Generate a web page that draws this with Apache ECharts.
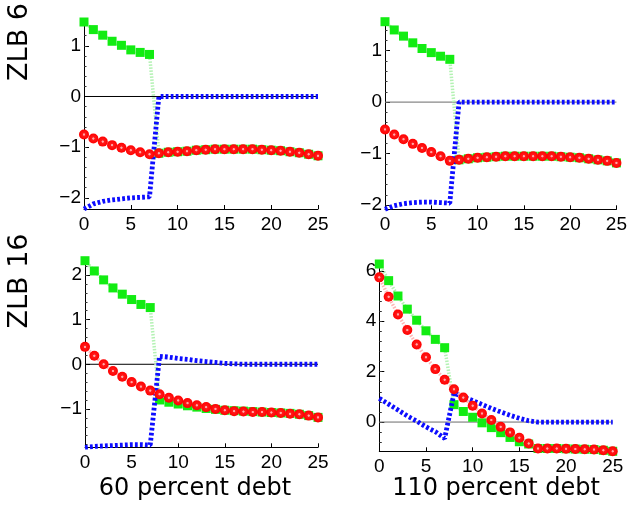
<!DOCTYPE html>
<html>
<head>
<meta charset="utf-8">
<script src="https://cdn.jsdelivr.net/npm/echarts@6/dist/echarts.min.js"></script>
<style>
  html, body { margin: 0; padding: 0; background: #fff; }
  #chart { width: 630px; height: 505px; }
</style>
</head>
<body>
<div id="chart"></div>
<script>
// Horizon (quarters)
const quarters = [0,1,2,3,4,5,6,7,8,9,10,11,12,13,14,15,16,17,18,19,20,21,22,23,24,25];
const xTicks = [0, 5, 10, 15, 20, 25];

// ZLB 6 quarters, 60 percent debt
const green_zlb6_d60 = [1.47,1.32,1.21,1.09,1.01,0.92,0.87,0.83,-1.12,-1.10,-1.09,-1.08,-1.06,-1.05,-1.04,-1.04,-1.04,-1.04,-1.04,-1.05,-1.06,-1.07,-1.09,-1.11,-1.14,-1.17];
const red_zlb6_d60   = [-0.75,-0.83,-0.89,-0.96,-1.01,-1.06,-1.10,-1.14,-1.12,-1.10,-1.09,-1.08,-1.06,-1.05,-1.04,-1.04,-1.04,-1.04,-1.04,-1.05,-1.06,-1.07,-1.09,-1.11,-1.14,-1.17];
const blue_zlb6_d60  = [-2.22,-2.12,-2.07,-2.04,-2.02,-2.00,-1.99,-1.98,0,0,0,0,0,0,0,0,0,0,0,0,0,0,0,0,0,0];

// ZLB 6 quarters, 110 percent debt
const green_zlb6_d110 = [1.56,1.40,1.28,1.15,1.04,0.96,0.89,0.83,-1.12,-1.10,-1.08,-1.07,-1.06,-1.05,-1.05,-1.05,-1.05,-1.05,-1.05,-1.06,-1.07,-1.08,-1.10,-1.12,-1.14,-1.18];
const red_zlb6_d110   = [-0.53,-0.63,-0.72,-0.81,-0.89,-0.97,-1.05,-1.14,-1.12,-1.10,-1.08,-1.07,-1.06,-1.05,-1.05,-1.05,-1.05,-1.05,-1.05,-1.06,-1.07,-1.08,-1.10,-1.12,-1.14,-1.18];
const blue_zlb6_d110  = [-2.08,-2.01,-1.97,-1.95,-1.94,-1.94,-1.95,-1.96,0,0,0,0,0,0,0,0,0,0,0,0,0,0,0,0,0,0];

// ZLB 16 quarters, 60 percent debt
const green_zlb16_d60 = [2.32,2.09,1.89,1.71,1.57,1.45,1.34,1.27,-0.80,-0.85,-0.89,-0.93,-0.96,-0.99,-1.01,-1.03,-1.04,-1.05,-1.06,-1.07,-1.08,-1.09,-1.10,-1.12,-1.15,-1.19];
const red_zlb16_d60   = [0.39,0.19,0.00,-0.15,-0.28,-0.40,-0.50,-0.59,-0.67,-0.75,-0.81,-0.87,-0.92,-0.96,-1.00,-1.03,-1.05,-1.06,-1.07,-1.07,-1.08,-1.09,-1.11,-1.12,-1.15,-1.19];
const blue_zlb16_d60  = [-1.86,-1.84,-1.83,-1.82,-1.81,-1.80,-1.80,-1.81,0.18,0.16,0.13,0.11,0.08,0.06,0.04,0.02,0.01,0,0,0,0,0,0,0,0,0];

// ZLB 16 quarters, 110 percent debt
const green_zlb16_d110 = [6.27,5.61,5.00,4.48,4.04,3.62,3.28,2.95,0.69,0.42,0.19,-0.03,-0.22,-0.42,-0.61,-0.78,-0.87,-1.05,-1.05,-1.05,-1.06,-1.07,-1.08,-1.09,-1.12,-1.16];
const red_zlb16_d110   = [5.74,4.97,4.27,3.65,3.08,2.57,2.10,1.68,1.30,0.97,0.65,0.34,0.08,-0.19,-0.41,-0.62,-0.85,-1.05,-1.05,-1.05,-1.06,-1.07,-1.08,-1.09,-1.12,-1.16];
const blue_zlb16_d110  = [0.94,0.71,0.48,0.24,0.04,-0.19,-0.38,-0.65,1.14,1.00,0.85,0.70,0.54,0.40,0.27,0.15,0.05,0,0,0,0,0,0,0,0,0];

// Y tick labels per panel
const yTicks_zlb6_d60   = [-2, -1, 0, 1];
const yTicks_zlb6_d110  = [-2, -1, 0, 1];
const yTicks_zlb16_d60  = [-1, 0, 1, 2];
const yTicks_zlb16_d110 = [0, 2, 4, 6];

const rowTitles = ['ZLB 6', 'ZLB 16'];
const colTitles = ['60 percent debt', '110 percent debt'];

// Panel layout (pixels) and per-panel styling
const panels = [
  { green: green_zlb6_d60,   red: red_zlb6_d60,   blue: blue_zlb6_d60,   ticks: yTicks_zlb6_d60,   step: 1,
    rect: { left: 84,  top: 22,   width: 234, height: 187 },  zeroColor: '#000' },
  { green: green_zlb6_d110,  red: red_zlb6_d110,  blue: blue_zlb6_d110,  ticks: yTicks_zlb6_d110,  step: 1,
    rect: { left: 385, top: 21.7, width: 233, height: 187.6 }, zeroColor: '#6a6a6a' },
  { green: green_zlb16_d60,  red: red_zlb16_d60,  blue: blue_zlb16_d60,  ticks: yTicks_zlb16_d60,  step: 1,
    rect: { left: 85,  top: 260.7, width: 233, height: 186.6 }, zeroColor: '#000' },
  { green: green_zlb16_d110, red: red_zlb16_d110, blue: blue_zlb16_d110, ticks: yTicks_zlb16_d110, step: 2,
    rect: { left: 379.3, top: 264, width: 233.4, height: 187.3 }, zeroColor: '#6a6a6a' }
];

const GREEN = '#12ec12';
const BLUE = '#0d0dff';
const tickFont = { fontFamily: '"Liberation Sans", Arial, sans-serif', fontSize: 19, color: '#000' };
const minus = v => String(v).replace('-', '\u2212');

const redFill = new echarts.graphic.RadialGradient(0.5, 0.5, 0.5, [
  { offset: 0, color: '#ffb0b0' },
  { offset: 0.16, color: '#ffa0a0' },
  { offset: 0.3, color: '#ff1a1a' },
  { offset: 1, color: '#ff0000' }
]);

const grid = [], xAxis = [], yAxis = [], series = [];

panels.forEach((p, i) => {
  const all = p.green.concat(p.red, p.blue);
  const yMin = Math.min.apply(null, all);
  const yMax = Math.max.apply(null, all);

  // minor ticks every fifth of the major step
  const minor = [];
  const ms = p.step / 5;
  for (let v = Math.ceil(yMin / ms) * ms; v <= yMax + 1e-9; v += ms) minor.push(+v.toFixed(4));

  grid.push(Object.assign({ containLabel: false }, p.rect));

  xAxis.push({
    type: 'value', gridIndex: i, min: 0, max: 25, interval: 5,
    axisLine: { show: true, onZero: false, lineStyle: { color: '#000', width: 1 } },
    axisTick: { show: true, inside: true, length: 4, customValues: xTicks, lineStyle: { color: '#000' } },
    axisLabel: Object.assign({ margin: 6, customValues: xTicks }, tickFont),
    splitLine: { show: false }
  });

  // major ticks + labels
  yAxis.push({
    type: 'value', gridIndex: i, min: yMin, max: yMax, position: 'left',
    axisLine: { show: true, onZero: false, lineStyle: { color: '#000', width: 1 } },
    axisTick: { show: true, inside: true, length: 5, customValues: p.ticks, lineStyle: { color: '#000' } },
    axisLabel: Object.assign({ margin: 3, customValues: p.ticks, formatter: minus }, tickFont),
    splitLine: { show: false }
  });
  // minor ticks
  yAxis.push({
    type: 'value', gridIndex: i, min: yMin, max: yMax, position: 'left', offset: 0,
    axisLine: { show: false },
    axisTick: { show: true, inside: true, length: 2.5, customValues: minor, lineStyle: { color: '#333' } },
    axisLabel: { show: false },
    splitLine: { show: false }
  });

  const yi = 2 * i;
  const pairs = arr => quarters.map((q, k) => [q, arr[k]]);

  series.push({
    type: 'line', xAxisIndex: i, yAxisIndex: yi, z: 1, silent: true,
    data: [[0, 0], [25, 0]], symbol: 'none',
    lineStyle: { color: p.zeroColor, width: 1 }
  });
  series.push({
    type: 'line', xAxisIndex: i, yAxisIndex: yi, z: 2,
    data: pairs(p.green), symbol: 'rect', symbolSize: 9, showAllSymbol: true,
    itemStyle: { color: GREEN, borderWidth: 0 },
    lineStyle: { color: '#b4f2b4', width: 3.5, type: [1.5, 1.5] }
  });
  series.push({
    type: 'line', xAxisIndex: i, yAxisIndex: yi, z: 3,
    data: pairs(p.blue), symbol: 'none',
    lineStyle: { color: BLUE, width: 4.8, type: [2.8, 2.2] }
  });
  series.push({
    type: 'line', xAxisIndex: i, yAxisIndex: yi, z: 4,
    data: pairs(p.red), symbol: 'circle', symbolSize: 10, showAllSymbol: true,
    itemStyle: { color: redFill, borderWidth: 0 },
    lineStyle: { color: '#ffb6b6', width: 3.5, type: [1.5, 1.5] }
  });
});

const titleFont = '"DejaVu Sans", Verdana, sans-serif';
const graphic = [
  { type: 'text', x: 20, y: 42, rotation: Math.PI / 2,
    style: { text: rowTitles[0], font: '27px ' + titleFont, fill: '#000', align: 'center', verticalAlign: 'middle' } },
  { type: 'text', x: 20, y: 281, rotation: Math.PI / 2,
    style: { text: rowTitles[1], font: '27px ' + titleFont, fill: '#000', align: 'center', verticalAlign: 'middle' } },
  { type: 'text', x: 195, y: 489,
    style: { text: colTitles[0], font: '24px ' + titleFont, fill: '#000', align: 'center', verticalAlign: 'middle' } },
  { type: 'text', x: 496, y: 489,
    style: { text: colTitles[1], font: '24px ' + titleFont, fill: '#000', align: 'center', verticalAlign: 'middle' } }
];

const chart = echarts.init(document.getElementById('chart'), null, { renderer: 'canvas' });
chart.setOption({
  animation: false,
  backgroundColor: '#fff',
  grid, xAxis, yAxis, series, graphic
});
</script>
</body>
</html>
